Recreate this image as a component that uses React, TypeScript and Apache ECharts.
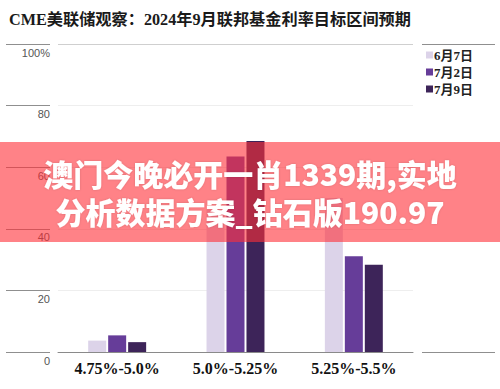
import React, { useEffect, useRef } from "react";
import * as echarts from "echarts";

const categories = ["4.75%-5.0%", "5.0%-5.25%", "5.25%-5.5%"];
const seriesNames = ["6月7日", "7月2日", "7月9日"];
const june7 = [3.7, 46.3, 50.0];
const july2 = [5.4, 63.5, 31.1];
const july9 = [3.2, 68.5, 28.3];
const seriesColors = ["#dcd3e9", "#663d99", "#3d2459"];
const yTickLabels: Record<number, string> = { 0: "0", 20: "20", 40: "40", 60: "60", 80: "80", 100: "100%" };
const titleText = "CME美联储观察：2024年9月联邦基金利率目标区间预期";
const bannerLines = ["澳门今晚必开一肖1339期,实地", "分析数据方案_钻石版190.97"];

const SERIF = "'Liberation Serif', 'DejaVu Serif', 'Noto Sans CJK SC', serif";
const CJK_SANS = "'Noto Sans CJK SC', 'Noto Sans', sans-serif";

export default function App() {
  const ref = useRef<HTMLDivElement>(null);
  useEffect(() => {
    if (!ref.current) return;
    const chart = echarts.init(ref.current, undefined, { renderer: "svg" });
    const values = [june7, july2, july9];
    chart.setOption({
      animation: false,
      backgroundColor: "#ffffff",
      title: {
        text: titleText,
        left: 4,
        top: 7,
        textStyle: { fontFamily: SERIF, fontWeight: "bold", fontSize: 16.2, color: "#1a1a1a" },
      },
      legend: {
        orient: "vertical",
        left: 421,
        top: 43,
        itemWidth: 7,
        itemHeight: 7,
        itemGap: 3,
        icon: "rect",
        data: seriesNames,
        textStyle: { fontFamily: SERIF, fontWeight: "bold", fontSize: 13, color: "#222", lineHeight: 14, padding: [0, 0, 0, -4] },
      },
      grid: { left: 58, right: 87, top: 44, bottom: 37, containLabel: false },
      xAxis: {
        type: "category",
        data: categories,
        axisLine: { show: true, lineStyle: { color: "#8a8a8a", width: 1 } },
        axisTick: { show: false },
        axisLabel: { fontFamily: SERIF, fontWeight: "bold", fontSize: 16, color: "#111", margin: 8 },
      },
      yAxis: [
        {
          type: "value",
          min: 0,
          max: 100,
          interval: 20,
          offset: 8,
          axisLine: { show: false },
          axisTick: { show: true, length: 44, lineStyle: { color: "#8f8f8f", width: 1.2 } },
          axisLabel: {
            margin: 0,
            verticalAlign: "top",
            padding: [3, 0, 0, 0],
            fontFamily: "'Liberation Sans Narrow', 'Arial Narrow', 'Liberation Sans', sans-serif",
            fontSize: 11,
            color: "#555",
            formatter: (v: number) => yTickLabels[v] ?? String(v),
          },
          splitLine: {
            show: true,
            lineStyle: { color: ["#eeeeee", "#eeeeee", "#eeeeee", "#eeeeee", "#eeeeee", "#cfcfcf"], width: 1 },
          },
        },
        {
          type: "value",
          position: "right",
          min: 0,
          max: 100,
          interval: 100,
          offset: 9,
          axisLine: { show: false },
          axisTick: { show: true, length: 73, lineStyle: { color: "#8f8f8f", width: 1.2 } },
          axisLabel: { show: false },
          splitLine: { show: false },
        },
      ],
      series: seriesNames.map((name, i) => ({
        name,
        type: "bar",
        yAxisIndex: 0,
        data: values[i],
        barWidth: 18,
        barGap: "11%",
        itemStyle: { color: seriesColors[i] },
      })),
      graphic: [
        {
          type: "rect",
          left: 0,
          top: 142,
          z: 100,
          shape: { width: 500, height: 100 },
          style: { fill: "rgba(255,47,55,0.6)" },
        },
        {
          type: "text",
          left: "center",
          top: 158,
          z: 101,
          style: {
            text: bannerLines[0],
            fill: "#ffffff",
            font: `900 30px ${CJK_SANS}`,
            textShadowColor: "rgba(0,0,0,0.15)",
            textShadowBlur: 2,
          },
        },
        {
          type: "text",
          left: "center",
          top: 196,
          z: 101,
          style: {
            text: bannerLines[1],
            fill: "#ffffff",
            font: `900 30px ${CJK_SANS}`,
            textShadowColor: "rgba(0,0,0,0.15)",
            textShadowBlur: 2,
          },
        },
      ],
    });
    return () => chart.dispose();
  }, []);
  return (
    <div
      ref={ref}
      style={{ position: "fixed", left: 0, top: 0, width: 500, height: 389 }}
    />
  );
}
